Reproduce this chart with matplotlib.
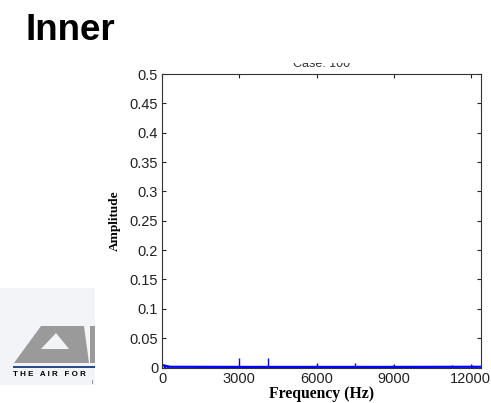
"""Espectro de amplitud, caso 100 (pista interna)."""

import matplotlib

matplotlib.use("Agg")
import matplotlib.pyplot as plt
from matplotlib.patches import Polygon, Rectangle

# picos del espectro (Hz, amplitud)
peak_freq = [60, 120, 180, 240, 1390, 2970, 4100, 6010, 7500, 8470, 8990,
             10340, 11260, 11460, 12040, 12150]
peak_amp = [0.006, 0.005, 0.004, 0.003, 0.002, 0.017, 0.0155, 0.007, 0.0085,
            0.002, 0.005, 0.002, 0.004, 0.003, 0.004, 0.003]

# linea base del espectro
base_freq = [0, 100, 300, 3000, 6000, 9000, 12000, 12400]
base_amp = [0.004, 0.003, 0.0012, 0.001, 0.001, 0.001, 0.0012, 0.0012]

x_ticks = [0, 3000, 6000, 9000, 12000]
y_ticks = [0, 0.05, 0.1, 0.15, 0.2, 0.25, 0.3, 0.35, 0.4, 0.45, 0.5]
y_ticklabels = ["0", "0.05", "0.1", "0.15", "0.2", "0.25", "0.3", "0.35",
                "0.4", "0.45", "0.5"]

W, H = 491, 403
fig = plt.figure(figsize=(W / 100, H / 100), dpi=100)

# --- logo (decoracion de fondo, coordenadas en pixeles) ---
bg = fig.add_axes([0, 0, 1, 1], zorder=-1)
bg.set_xlim(0, W)
bg.set_ylim(H, 0)
bg.axis("off")
bg.add_patch(Rectangle((0, 288), 95, 97, color="#f2f4f7", lw=0))
bg.add_patch(Polygon([(14, 363), (41, 326), (84, 326), (89, 363)],
                     closed=True, color="#9a9a9a", lw=0))
bg.add_patch(Polygon([(41, 349), (56, 333), (69, 349)],
                     closed=True, color="#f2f4f7", lw=0))
bg.add_patch(Rectangle((90, 326), 5, 37, color="#9a9a9a", lw=0))
bg.add_patch(Rectangle((13, 366), 82, 2, color="#2b4a8a", lw=0))
bg.text(13, 374, "T H E   A I R   F O R", fontsize=5.8, fontweight="bold",
        family="Liberation Sans", va="center", ha="left", color="black")
bg.text(92, 383, "l", fontsize=4, family="Liberation Sans", va="center",
        color="#444444")

fig.text(25 / W, 1 - 40 / H, "Inner", fontsize=26.5, fontweight="bold",
         family="Liberation Sans", va="baseline", ha="left")

# --- espectro ---
ax = fig.add_axes([162.3 / W, 1 - 367.5 / H, 318.7 / W, 293.5 / H])
ax.plot(base_freq, base_amp, color="blue", lw=1.6)
ax.vlines(peak_freq, 0, peak_amp, color="blue", lw=1.0)
ax.set_xlim(0, 12400)
ax.set_ylim(0, 0.5)
ax.set_xticks(x_ticks)
ax.set_yticks(y_ticks)
ax.set_yticklabels(y_ticklabels)
ax.tick_params(direction="in", length=3, width=0.8, top=True, right=True,
               labelsize=10.5, pad=3, colors="#222222")
for lab in ax.get_xticklabels() + ax.get_yticklabels():
    lab.set_family("Liberation Sans")
for s in ax.spines.values():
    s.set_linewidth(0.8)
    s.set_color("#333333")

ax.set_xlabel("Frequency (Hz)", family="Liberation Serif", fontweight="bold",
              fontsize=11.3, labelpad=0)
ax.set_ylabel("Amplitude", family="Liberation Serif", fontweight="bold",
              fontsize=9.5, labelpad=6)
ax.set_title("Case: 100", family="Liberation Sans", fontsize=9,
             color="#333333", pad=5)

# el titulo aparece recortado por arriba en el original
fig.patches.append(Rectangle((250 / W, 1 - 63 / H), 150 / W, 18 / H,
                             transform=fig.transFigure, color="white",
                             zorder=5, lw=0))

fig.savefig("out.png", dpi=100)
